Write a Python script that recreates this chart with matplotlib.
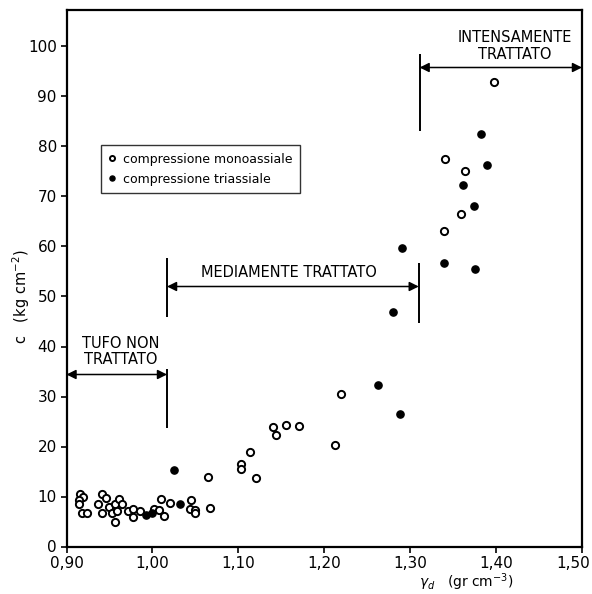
import matplotlib
matplotlib.use('Agg')
from matplotlib import pyplot as plt
from matplotlib import transforms

# compressione monoassiale (open circles)
mono_gd = [0.916, 0.919, 0.915, 0.915, 0.918, 0.924, 0.941, 0.946, 0.937, 0.941,
           0.950, 0.956, 0.961, 0.965, 0.953, 0.959, 0.956, 0.971, 0.977, 0.977,
           0.985, 1.002, 1.008, 1.010, 1.013, 1.020, 1.045, 1.044, 1.050, 1.050,
           1.067, 1.220, 1.140, 1.156, 1.171, 1.144, 1.113, 1.103, 1.103, 1.065,
           1.120, 1.212, 1.398, 1.341, 1.364, 1.359, 1.339]
mono_c = [10.6, 10.0, 9.4, 8.6, 6.8, 6.8, 10.6, 9.8, 8.6, 6.8,
          8.0, 8.5, 9.6, 8.5, 6.8, 7.1, 5.0, 7.1, 7.5, 6.0,
          7.1, 7.5, 7.3, 9.5, 6.2, 8.7, 9.3, 7.6, 7.4, 6.8,
          7.8, 30.6, 24.0, 24.3, 24.1, 22.3, 19.0, 16.6, 15.6, 13.9,
          13.8, 20.4, 92.8, 77.4, 75.0, 66.4, 63.1]

# compressione triassiale (filled circles)
tri_gd = [0.993, 0.999, 1.032, 1.025, 1.290, 1.280, 1.263, 1.288,
          1.383, 1.390, 1.361, 1.374, 1.339, 1.376]
tri_c = [6.4, 6.8, 8.5, 15.4, 59.6, 46.9, 32.4, 26.6,
         82.5, 76.2, 72.3, 68.1, 56.6, 55.5]

xticks = [0.90, 1.00, 1.10, 1.20, 1.30, 1.40, 1.50]
xtick_labels = ['0,90', '1,00', '1,10', '1,20', '1,30', '1,40', '1,50']
yticks = list(range(0, 101, 10))

fig = plt.figure(figsize=(5.92, 5.94), dpi=100)
ax = fig.add_axes([66.5 / 592, 1 - 546.5 / 594, 515.5 / 592, 536.5 / 594])
ax.set_xlim(0.90, 1.50)
ax.set_ylim(0, 107.3)

ax.plot(mono_gd, mono_c, 'o', mfc='white', mec='black', ms=5.2, mew=1.4,
        linestyle='none', label='compressione monoassiale')
ax.plot(tri_gd, tri_c, 'o', color='black', ms=5.2, linestyle='none',
        label='compressione triassiale')

for s in ax.spines.values():
    s.set_linewidth(1.6)

ax.set_xticks(xticks)
ax.set_xticklabels(xtick_labels)
ax.set_yticks(yticks)
ax.tick_params(direction='out', length=4, width=1.2, labelsize=11, pad=3)
# last x label sits a bit inward, as in the original
last = ax.get_xticklabels()[-1]
last.set_transform(last.get_transform() +
                   transforms.ScaledTranslation(-9 / 100, 0, fig.dpi_scale_trans))

# ranges of treatment
arrow = dict(arrowstyle='<|-|>', color='black', lw=1.1, mutation_scale=14,
             shrinkA=0, shrinkB=0)
ax.vlines(1.017, 23.7, 35.5, color='black', lw=1.4)
ax.annotate('', xy=(0.90, 34.4), xytext=(1.017, 34.4), arrowprops=arrow)
ax.text(0.963, 39.0, 'TUFO NON\nTRATTATO', ha='center', va='center',
        fontsize=10.5, linespacing=1.1)

ax.vlines(1.017, 46.0, 57.7, color='black', lw=1.4)
ax.vlines(1.310, 44.7, 56.7, color='black', lw=1.4)
ax.annotate('', xy=(1.017, 52.0), xytext=(1.310, 52.0), arrowprops=arrow)
ax.text(1.159, 54.7, 'MEDIAMENTE TRATTATO', ha='center', va='center',
        fontsize=10.5)

ax.vlines(1.311, 83.0, 98.5, color='black', lw=1.4)
ax.annotate('', xy=(1.311, 95.8), xytext=(1.50, 95.8), arrowprops=arrow)
ax.text(1.422, 100.1, 'INTENSAMENTE\nTRATTATO', ha='center', va='center',
        fontsize=10.5, linespacing=1.1)

leg = ax.legend(loc='upper left', bbox_to_anchor=(0.066, 0.748), borderaxespad=0,
                fontsize=9, frameon=True, fancybox=False, handlelength=0.6,
                handletextpad=0.6, borderpad=0.6, labelspacing=0.55, markerscale=0.7)
leg.get_frame().set_edgecolor('black')
leg.get_frame().set_linewidth(1.0)

ax.text(1.31, -7.2, r'$\gamma_d$   (gr cm$^{-3}$)', ha='left', va='center',
        fontsize=10, clip_on=False)
fig.text(0.035, 0.50, 'c   (kg cm$^{-2}$)', rotation=90, ha='center', va='center',
         fontsize=10.5)

fig.savefig('out.png', dpi=100)
